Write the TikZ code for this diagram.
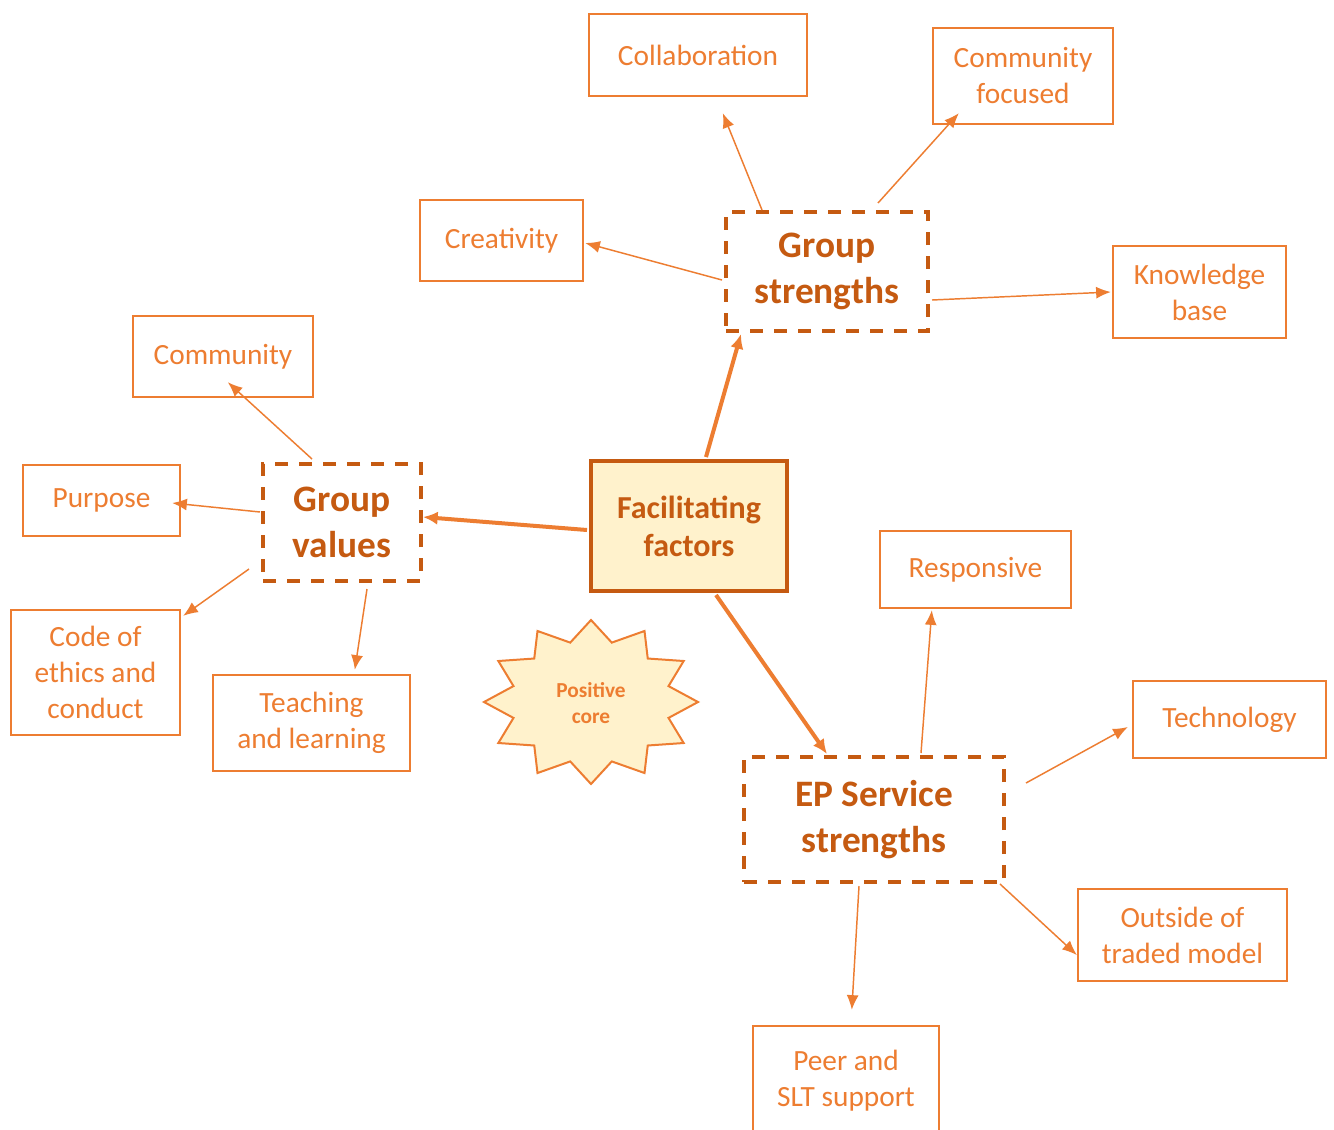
\documentclass[tikz,border=0pt]{standalone}
\usepackage{fontspec}
\setmainfont{Carlito}
\usetikzlibrary{arrows.meta,calc}
\definecolor{dk}{HTML}{C55A11}
\definecolor{lt}{HTML}{ED7D31}
\definecolor{cream}{HTML}{FFF2CC}

\begin{document}
\begin{tikzpicture}[x=0.75pt,y=-0.75pt,
  leaf/.style={draw=lt, line width=1.8pt, text=lt, align=center, inner sep=0pt,
    font=\fontsize{22}{27}\selectfont},
  hub/.style={draw=dk, line width=3pt, dash pattern=on 10pt off 8pt, text=dk,
    align=center, inner sep=0pt, font=\fontsize{28}{34.5}\selectfont\bfseries},
  centre/.style={draw=dk, fill=cream, line width=3pt, text=dk, align=center,
    inner sep=0pt, font=\fontsize{24}{28.5}\selectfont\bfseries},
  link/.style={draw=lt, line width=1.1pt, -{Latex[length=11pt,width=9pt]}},
  mainlink/.style={draw=lt, line width=3pt, -{Latex[length=11pt,width=10pt]}},
  sz/.style 2 args={minimum width=#1*0.75pt, minimum height=#2*0.75pt},
]
\clip (0,0) rectangle (1334,1129);
\fill[white] (0,0) rectangle (1334,1129);

% central node and the three themes
\node[centre, sz={196}{130}] (ff) at (689,526) {Facilitating\\factors};
\node[hub, sz={202}{119}] (gs) at (827,271.5) {Group\\strengths};
\node[hub, sz={158}{117}] (gv) at (342,522.5) {Group\\values};
\node[hub, sz={260}{125}] (ep) at (874,819.5) {EP Service\\strengths};

% group strengths
\node[leaf, sz={218}{82}] (collab) at (698,55) {Collaboration};
\node[leaf, sz={180}{96}] (cfocus) at (1023,76) {Community\\focused};
\node[leaf, sz={163}{81}] (creat) at (501.5,240.5) {Creativity};
\node[leaf, sz={173}{92}] (know) at (1199.5,292) {Knowledge\\base};

% group values
\node[leaf, sz={180}{81}] (comm) at (223,356.5) {Community};
\node[leaf, sz={157}{71}] (purp) at (101.5,500.5) {Purpose};
\node[leaf, sz={169}{125}] (code) at (95.5,672.5) {Code of\\ethics and\\conduct};
\node[leaf, sz={197}{96}] (teach) at (311.5,723) {Teaching\\and learning};

% EP service strengths
\node[leaf, sz={191}{77}] (resp) at (975.5,569.5) {Responsive};
\node[leaf, sz={193}{77}] (tech) at (1229.5,719.5) {Technology};
\node[leaf, sz={209}{92}] (outs) at (1182.5,935) {Outside of\\traded model};
\node[leaf, sz={186}{110}] (peer) at (846,1081) {Peer and\\SLT support};

% positive core burst
\draw[draw=lt, fill=cream, line width=1.5pt, line join=miter]
  plot[samples=25, domain=0:24, variable=\k]
  ({591+107*(0.875+0.125*cos(180*\k))*cos(90+15*\k)},
   {702-82*(0.875+0.125*cos(180*\k))*sin(90+15*\k)}) -- cycle;
\node[text=lt, align=center, font=\fontsize{16}{19.5}\selectfont\bfseries] (core) at (591,703) {Positive\\core};

% main links
\draw[mainlink] ($(ff.north)+(17,-2)$) -- ($(gs.south west)+(17,1)$);
\draw[mainlink] ($(ff.west)+(-2,4)$) -- ($(gv.east)+(0,-5.5)$);
\draw[mainlink] ($(ff.south)+(27,2)$) -- ($(ep.north west)+(85,-1)$);

% group strengths links
\draw[link] ($(gs.north west)+(38,0)$) -- ($(collab.south west)+(135,16)$);
\draw[link] ($(gs.north west)+(154,-7)$) -- ($(cfocus.south west)+(27,-12)$);
\draw[link] ($(gs.west)+(-2,8.5)$) -- ($(creat.east)+(1,2.5)$);
\draw[link] ($(gs.east)+(2,28.5)$) -- ($(know.west)+(-1,0)$);

% group values links
\draw[link] ($(gv.north west)+(51,-3)$) -- ($(comm.south west)+(96,-16)$);
\draw[link] ($(gv.west)+(-1,-10.5)$) -- ($(purp.east)+(-9,2.5)$);
\draw[link] ($(gv.south west)+(-12,-14)$) -- ($(code.north east)+(2,7)$);
\draw[link] ($(gv.south west)+(106,6)$) -- ($(teach.north west)+(143,-4)$);

% EP service strengths links
\draw[link] ($(ep.north west)+(179,-2)$) -- ($(resp.south west)+(53,1)$);
\draw[link] ($(ep.north east)+(20,28)$) -- ($(tech.west)+(-4,7.5)$);
\draw[link] ($(ep.south east)+(-6,0)$) -- ($(outs.west)+(0,20)$);
\draw[link] ($(ep.south west)+(117,2)$) -- ($(peer.north west)+(100,-15)$);
\end{tikzpicture}
\end{document}
